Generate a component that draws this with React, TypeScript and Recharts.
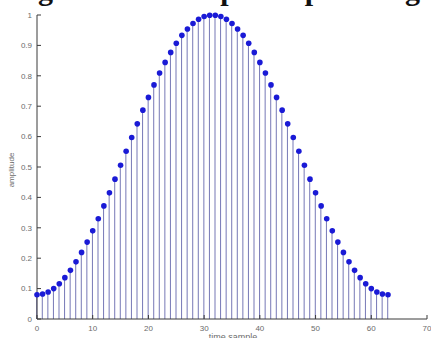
import { ComposedChart, Bar, Scatter, XAxis, YAxis } from 'recharts';

// sample index (0..63) and the window amplitude
const samples = [
  0, 1, 2, 3, 4, 5, 6, 7, 8, 9, 10, 11, 12, 13, 14, 15,
  16, 17, 18, 19, 20, 21, 22, 23, 24, 25, 26, 27, 28, 29, 30, 31,
  32, 33, 34, 35, 36, 37, 38, 39, 40, 41, 42, 43, 44, 45, 46, 47,
  48, 49, 50, 51, 52, 53, 54, 55, 56, 57, 58, 59, 60, 61, 62, 63,
];
const amplitude = [
  0.08, 0.082, 0.089, 0.1, 0.116, 0.136, 0.16, 0.188, 0.219, 0.253, 0.29, 0.33, 0.372, 0.415, 0.46, 0.506,
  0.552, 0.597, 0.642, 0.687, 0.729, 0.77, 0.809, 0.844, 0.877, 0.907, 0.933, 0.954, 0.972, 0.986, 0.995, 0.999,
  0.999, 0.995, 0.986, 0.972, 0.954, 0.933, 0.907, 0.877, 0.844, 0.809, 0.77, 0.729, 0.687, 0.642, 0.597, 0.552,
  0.506, 0.46, 0.415, 0.372, 0.33, 0.29, 0.253, 0.219, 0.188, 0.16, 0.136, 0.116, 0.1, 0.089, 0.082, 0.08,
];
const xTicks = [0, 10, 20, 30, 40, 50, 60, 70];
const yTicks = [0, 0.1, 0.2, 0.3, 0.4, 0.5, 0.6, 0.7, 0.8, 0.9, 1];

const data = samples.map((n, i) => ({ n, w: amplitude[i] }));

const tickStyle = { fontSize: 8, fill: '#6b6b6b', fontFamily: 'Liberation Sans, Arial, sans-serif' };
const axisColor = '#3a3a3a';

const dot = (p: any) => <circle cx={p.cx} cy={p.cy} r={2.8} fill="#1a1ad6" />;

export default function App() {
  return (
    <div style={{ position: 'absolute', left: 0, top: 0, width: 431, height: 338, overflow: 'hidden', background: '#fff' }}>
      <ComposedChart width={431} height={338} data={data} margin={{ top: 15, right: 4, bottom: 0, left: 0 }}>
        <XAxis
          xAxisId="main"
          dataKey="n"
          type="number"
          domain={[0, 70]}
          ticks={xTicks}
          tickSize={-4}
          tickMargin={10}
          height={19}
          stroke={axisColor}
          tick={tickStyle}
        />
        <XAxis
          xAxisId="top"
          orientation="top"
          dataKey="n"
          type="number"
          domain={[0, 70]}
          ticks={xTicks}
          tickSize={-4}
          height={0}
          stroke={axisColor}
          tickFormatter={() => ''}
        />
        <YAxis
          yAxisId="main"
          type="number"
          domain={[0, 1]}
          ticks={yTicks}
          tickSize={-4}
          tickMargin={9}
          width={37}
          stroke={axisColor}
          tick={tickStyle}
          interval={0}
        />
        <YAxis
          yAxisId="right"
          orientation="right"
          type="number"
          domain={[0, 1]}
          ticks={yTicks}
          tickSize={-4}
          width={0}
          stroke={axisColor}
          tickFormatter={() => ''}
          interval={0}
        />
        <Bar xAxisId="main" yAxisId="main" dataKey="w" barSize={1} fill="#7678b6" isAnimationActive={false} />
        <Scatter xAxisId="main" yAxisId="main" dataKey="w" shape={dot} isAnimationActive={false} />
      </ComposedChart>
      <svg width={431} height={338} style={{ position: 'absolute', left: 0, top: 0, pointerEvents: 'none' }}>
        <text y={-0.5} fontFamily="Liberation Serif, Times New Roman, serif" fontWeight="bold" fontSize={30} fill="#111">
          <tspan x={53} textAnchor="end">Hamming</tspan>
          <tspan x={70}>window</tspan>
          <tspan x={177}>shape</tspan>
          <tspan x={255}>of</tspan>
          <tspan x={293}>speech</tspan>
          <tspan x={385}>signal</tspan>
        </text>
        <text x={233} y={340} textAnchor="middle" fontSize={9} fill="#6b6b6b" fontFamily="Liberation Sans, Arial, sans-serif">
          time sample
        </text>
        <text
          x={14}
          y={170}
          textAnchor="middle"
          fontSize={8}
          fill="#6b6b6b"
          fontFamily="Liberation Sans, Arial, sans-serif"
          transform="rotate(-90 14 170)"
        >
          amplitude
        </text>
      </svg>
    </div>
  );
}
